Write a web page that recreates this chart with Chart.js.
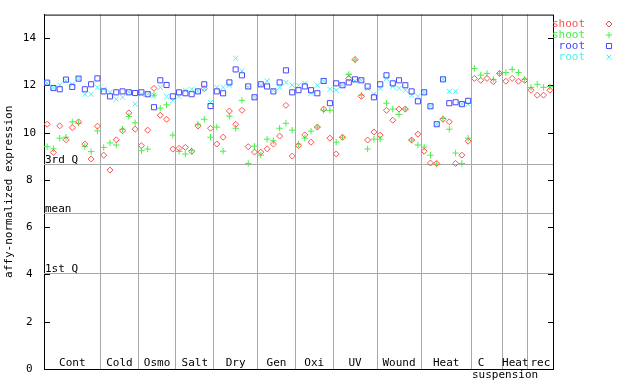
<!DOCTYPE html>
<html>
<head>
<meta charset="utf-8">
<script src="https://cdn.jsdelivr.net/npm/chart.js@4/dist/chart.umd.min.js"></script>
<style>
  html, body { margin: 0; padding: 0; background: #fff; }
  #wrap { width: 640px; height: 384px; position: relative; }
</style>
</head>
<body>
<div id="wrap"><canvas id="c" width="640" height="384"></canvas></div>
<script>
// ---- data ----
const groupNames = ["Cont", "Cold", "Osmo", "Salt", "Dry", "Gen", "Oxi", "UV", "Wound", "Heat", "C", "Heat", "rec"];
const groupSubLabels = ["", "", "", "", "", "", "", "", "", "", "suspension", "", ""];
const groupSizes = [9, 6, 6, 6, 7, 6, 6, 7, 7, 8, 5, 4, 4];

const seriesNames = ["shoot", "shoot", "root", "root"];

const shootA = [
  10.36, 9.17, 10.29, 9.70, 10.22, 10.46, 9.52, 8.89, 10.28,
  9.05, 8.42, 9.70, 10.08, 10.84, 10.15,
  9.45, 10.11, 11.88, 10.74, 10.57, 9.31,
  9.34, 9.38, 9.21, 10.28, 11.87, 10.19,
  9.52, 9.81, 10.92, 10.36, 10.95, 9.41, 9.18,
  9.18, 9.32, 9.52, 9.86, 11.16, 9.01,
  9.45, 9.91, 9.60, 10.24, 11.00, 9.77,
  9.10, 9.81, 12.30, 13.10, 11.54, 9.69, 10.03,
  9.90, 10.95, 10.53, 11.00, 11.00, 9.69, 9.94,
  9.22, 8.72, 8.70, 10.57, 10.46, 8.70, 9.05, 9.64,
  12.30, 12.22, 12.30, 12.16, 12.51,
  12.18, 12.30, 12.18, 12.22,
  11.80, 11.59, 11.59, 11.80
];
const shootB = [
  9.41, 9.32, 9.77, 9.81, 10.46, 10.40, 9.42, 9.20, 10.08,
  9.38, 9.57, 9.48, 10.15, 10.69, 10.42,
  9.24, 9.31, 11.59, 11.04, 11.18, 9.90,
  9.21, 9.10, 9.24, 10.36, 10.57, 9.81,
  10.24, 9.22, 10.70, 10.19, 11.37, 8.70, 9.43,
  9.05, 9.73, 9.66, 10.19, 10.40, 10.11,
  9.52, 9.77, 10.07, 10.24, 10.95, 10.95,
  9.60, 9.81, 12.47, 13.08, 11.59, 9.31, 9.73,
  9.73, 11.25, 11.00, 10.77, 11.00, 9.69, 9.48,
  9.39, 9.05, 8.67, 10.60, 10.15, 9.14, 8.70, 9.77,
  12.72, 12.44, 12.51, 12.26, 12.51,
  12.55, 12.68, 12.55, 12.26,
  11.92, 12.05, 11.92, 11.95
];
const rootA = [
  12.12, 11.89, 11.84, 12.25, 11.94, 12.29, 11.84, 12.05, 12.30,
  11.75, 11.54, 11.71, 11.75, 11.71, 11.68,
  11.71, 11.63, 11.08, 12.22, 12.02, 11.54,
  11.71, 11.67, 11.63, 11.75, 12.05, 11.13,
  11.75, 11.67, 12.13, 12.68, 12.43, 11.96, 11.50,
  12.05, 11.96, 11.75, 12.13, 12.64, 11.71,
  11.80, 11.96, 11.80, 11.67, 12.19, 11.25,
  12.09, 12.01, 12.13, 12.26, 12.22, 11.96, 11.50,
  12.05, 12.43, 12.09, 12.22, 12.01, 11.75, 11.33,
  11.71, 11.12, 10.36, 12.26, 11.25, 11.29, 11.21, 11.35,
  null, null, null, null, null,
  null, null, null, null,
  null, null, null, null
];
const rootB = [
  12.10, 11.90, 12.02, 12.20, 12.05, 12.30, 11.63, 11.63, 11.92,
  11.84, 11.71, 11.42, 11.50, 11.71, 11.21,
  11.63, 11.63, 11.59, 11.92, 11.54, 11.37,
  11.54, 11.80, 11.84, 11.75, 11.87, 11.28,
  11.92, 11.92, 12.01, 13.15, 12.61, 11.92, 11.50,
  12.01, 12.19, 11.80, 11.92, 12.13, 12.01,
  12.01, 12.09, 11.67, 12.01, 12.19, 11.84,
  11.80, 12.01, 12.43, 12.19, 12.22, 11.88, 11.63,
  11.88, 12.30, 11.96, 11.88, 11.80, 11.59, 11.54,
  11.71, 11.12, 10.36, 12.26, 11.75, 11.75, 11.21, 11.21,
  null, null, null, null, null,
  null, null, null, null,
  null, null, null, null
];

const yTickValues = [0, 2, 4, 6, 8, 10, 12, 14];
const quartileValues = [8.68, 6.61, 4.06];
const quartileLabels = ["3rd Q", "mean", "1st Q"];

// ---- styles ----
const FONT = "DejaVu Sans Mono";
const colors = ["rgb(255,80,80)", "rgb(72,240,72)", "rgb(72,72,255)", "rgb(80,240,240)"];
const styles = ["rectRot", "cross", "rect", "crossRot"];
const radii = [3, 3.2, 3.6, 3.6];

const nSamples = groupSizes.reduce((a, b) => a + b, 0);
const boundaries = [];
{ let acc = 0; for (let i = 0; i < groupSizes.length - 1; i++) { acc += groupSizes[i]; boundaries.push(acc); } }

function toPoints(arr) {
  return arr.map((v, i) => ({ x: i + 0.5, y: v })).filter(p => p.y !== null);
}
const allSeries = [shootA, shootB, rootA, rootB];

const datasets = allSeries.map((arr, k) => ({
  label: seriesNames[k],
  data: toPoints(arr),
  pointStyle: styles[k],
  pointRadius: radii[k],
  pointHoverRadius: radii[k],
  borderColor: colors[k],
  backgroundColor: "rgba(0,0,0,0)",
  pointBorderWidth: 1,
  showLine: false
}));

const decorPlugin = {
  id: "decor",
  beforeDatasetsDraw(chart) {
    const { ctx, chartArea: a, scales } = chart;
    const y = scales.y;
    ctx.save();
    // quartile lines
    ctx.strokeStyle = "#a8a8a8";
    ctx.lineWidth = 1;
    quartileValues.forEach((q) => {
      const py = Math.round(y.getPixelForValue(q)) + 0.5;
      ctx.beginPath(); ctx.moveTo(a.left, py); ctx.lineTo(a.right, py); ctx.stroke();
    });
    ctx.fillStyle = "#000";
    ctx.font = "11px '" + FONT + "'";
    ctx.textAlign = "left";
    ctx.textBaseline = "alphabetic";
    quartileValues.forEach((q, i) => {
      const py = Math.round(y.getPixelForValue(q));
      ctx.fillText(quartileLabels[i], a.left + 1, py - 1);
    });
    // frame
    ctx.strokeStyle = "#000";
    ctx.beginPath();
    ctx.moveTo(a.left, a.top + 0.5); ctx.lineTo(a.right, a.top + 0.5);
    ctx.moveTo(a.right + 0.5, a.top); ctx.lineTo(a.right + 0.5, a.bottom);
    ctx.stroke();
    // inward ticks
    y.ticks.forEach(t => {
      const py = Math.round(y.getPixelForValue(t.value)) + 0.5;
      ctx.beginPath();
      ctx.moveTo(a.left, py); ctx.lineTo(a.left + 6, py);
      ctx.moveTo(a.right - 5, py); ctx.lineTo(a.right + 1, py);
      ctx.stroke();
    });
    ctx.restore();
  },
  afterDraw(chart) {
    const { ctx, chartArea: a, scales } = chart;
    const x = scales.x;
    ctx.save();
    ctx.font = "11px '" + FONT + "'";
    ctx.fillStyle = "#000";
    ctx.textAlign = "center";
    ctx.textBaseline = "alphabetic";
    let acc = 0;
    groupSizes.forEach((n, i) => {
      const c = x.getPixelForValue(acc + n / 2);
      if (groupSubLabels[i]) {
        ctx.fillText(groupNames[i], c - 6, a.bottom - 3);
        ctx.fillText(groupSubLabels[i], c + 18, a.bottom + 9);
      } else {
        ctx.fillText(groupNames[i], c, a.bottom - 3);
      }
      acc += n;
    });
    // legend
    const rowY = [24, 35, 46, 57];
    seriesNames.forEach((name, k) => {
      ctx.fillStyle = colors[k];
      ctx.textAlign = "right";
      ctx.textBaseline = "middle";
      ctx.fillText(name, 585, rowY[k]);
      ctx.save();
      ctx.strokeStyle = colors[k];
      ctx.fillStyle = "rgba(0,0,0,0)";
      ctx.lineWidth = 1;
      Chart.helpers.drawPoint(ctx, { pointStyle: styles[k], radius: radii[k], rotation: 0, borderWidth: 1 }, 609, rowY[k]);
      ctx.restore();
    });
    ctx.restore();
  }
};

new Chart(document.getElementById("c"), {
  type: "scatter",
  data: { datasets },
  options: {
    responsive: false,
    animation: false,
    events: [],
    layout: { padding: { left: 0, top: 13, right: 87, bottom: 0 } },
    plugins: { legend: { display: false }, tooltip: { enabled: false } },
    scales: {
      x: {
        type: "linear",
        min: 0,
        max: nSamples,
        afterBuildTicks(s) { s.ticks = boundaries.map(v => ({ value: v })); },
        afterFit(s) { s.height = 15; },
        ticks: { display: false },
        grid: { color: "#a8a8a8", lineWidth: 1, drawTicks: false },
        border: { color: "#000", width: 1 }
      },
      y: {
        type: "linear",
        min: 0,
        max: 15,
        afterBuildTicks(s) { s.ticks = yTickValues.map(v => ({ value: v })); },
        afterFit(s) { s.width = 44; },
        ticks: { color: "#000", font: { family: FONT, size: 11 }, padding: 8, crossAlign: "center" },
        grid: { display: false, drawTicks: false },
        border: { color: "#000", width: 1 },
        title: { display: true, text: "affy-normalized expression", color: "#000", font: { family: FONT, size: 11 }, padding: { top: 3, bottom: 0 } }
      }
    }
  },
  plugins: [decorPlugin]
});
</script>
</body>
</html>
